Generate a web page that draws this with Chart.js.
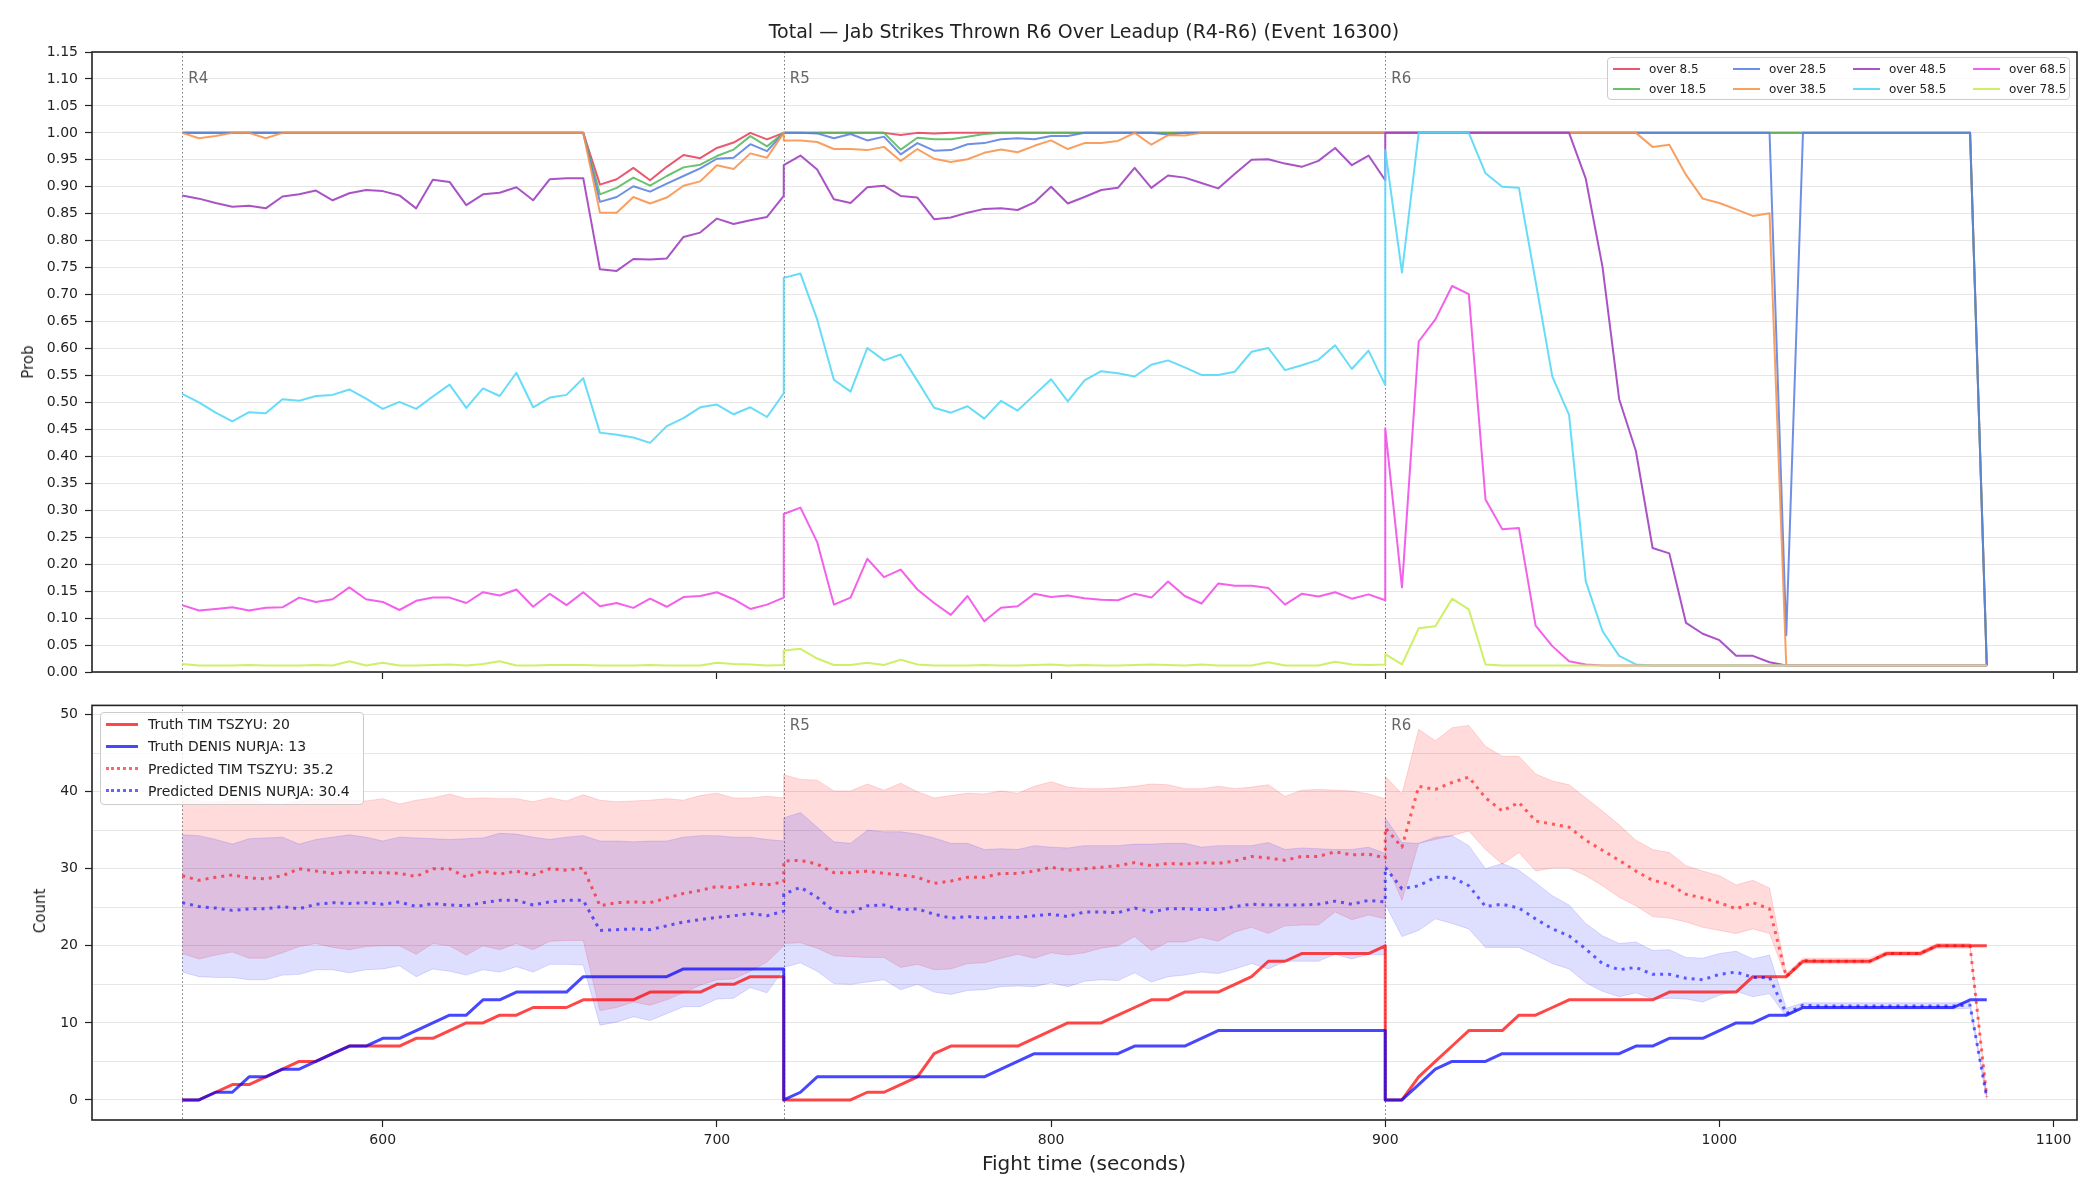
<!DOCTYPE html>
<html>
<head>
<meta charset="utf-8">
<script src="https://cdn.jsdelivr.net/npm/chart.js@4.4.1/dist/chart.umd.min.js"></script>
<style>
  body { margin: 0; width: 2100px; height: 1200px; background: #fff; position: relative; overflow: hidden;
         font-family: "DejaVu Sans", sans-serif; color: #222; }
  canvas { position: absolute; left: 0; }
  #probChart { top: 0; }
  #countChart { top: 690px; }
  .txt { position: absolute; white-space: nowrap; }
  .legend { position: absolute; border: 1px solid #cccccc; border-radius: 4px; background: rgba(255,255,255,0.8); box-sizing: border-box; }
  .sw { position: absolute; height: 0; }
</style>
</head>
<body>
<canvas id="probChart" width="2100" height="690" style="width:2100px;height:690px"></canvas>
<canvas id="countChart" width="2100" height="510" style="width:2100px;height:510px"></canvas>

<div class="txt" style="left:1084px; top:31px; transform:translate(-50%,-50%); font-size:19px;">Total — Jab Strikes Thrown R6 Over Leadup (R4-R6) (Event 16300)</div>
<div class="txt" style="left:28px; top:362px; transform:translate(-50%,-50%) rotate(-90deg); font-size:15px;">Prob</div>
<div class="txt" style="left:40px; top:911px; transform:translate(-50%,-50%) rotate(-90deg); font-size:15px;">Count</div>
<div class="txt" style="left:1084px; top:1163px; transform:translate(-50%,-50%); font-size:20px;">Fight time (seconds)</div>
<div id="topLegend" class="legend" style="left:1607px; top:57px; width:463px; height:43px;"></div>
<div id="bottomLegend" class="legend" style="left:100px; top:712px; width:264px; height:93px;"></div>

<script>
// time stamps (s) — rounds R4, R5, R6; round boundaries are repeated
const TIME = [
  540,545,550,555,560, 565,570,575,580,585, 590,595,600,605,610, 615,620,625,630,635, 640,645,650,655,660, 665,670,675,680,685, 690,695,700,705,710, 715,720,
  720,725,730,735,740, 745,750,755,760,765, 770,775,780,785,790, 795,800,805,810,815, 820,825,830,835,840, 845,850,855,860,865, 870,875,880,885,890, 895,900,
  900,905,910,915,920, 925,930,935,940,945, 950,955,960,965,970, 975,980,985,990,995, 1000,1005,1010,1015,1020, 1025,1030,1035,1040,1045, 1050,1055,1060,1065,1070, 1075,1080
];
const ROUND_STARTS = [540, 720, 900];
const ROUND_LABELS = ['R4', 'R5', 'R6'];
const X_TICKS = [600, 700, 800, 900, 1000, 1100];
const PROB_TICKS = [0, 0.05, 0.1, 0.15, 0.2, 0.25, 0.3, 0.35, 0.4, 0.45, 0.5, 0.55, 0.6, 0.65, 0.7, 0.75, 0.8, 0.85, 0.9, 0.95, 1, 1.05, 1.1, 1.15];
const COUNT_TICKS = [0, 5, 10, 15, 20, 25, 30, 35, 40, 45, 50];

// over/under probabilities (one row per round)
const over8_5 = [
  1,1,1,1,1, 1,1,1,1,1, 1,1,1,1,1, 1,1,1,1,1, 1,1,1,1,1, 0.904,0.914,0.935,0.912,0.937, 0.959,0.953,0.972,0.982,1, 0.988,1,
  1,1,1,1,1, 1,1,0.996,1,0.999, 1,1,1,1,1, 1,1,1,1,1, 1,1,1,1,1, 1,1,1,1,1, 1,1,1,1,1, 1,1,
  1,1,1,1,1, 1,1,1,1,1, 1,1,1,1,1, 1,1,1,1,1, 1,1,1,1,1, 1,1,1,1,1, 1,1,1,1,1, 1,0.012
];
const over18_5 = [
  1,1,1,1,1, 1,1,1,1,1, 1,1,1,1,1, 1,1,1,1,1, 1,1,1,1,1, 0.886,0.898,0.917,0.902,0.920, 0.936,0.941,0.957,0.969,0.994, 0.975,1,
  1,1,1,1,1, 1,1,0.969,0.991,0.988, 0.988,0.993,0.998,1,1, 1,1,1,1,1, 1,1,1,1,1, 1,1,1,1,1, 1,1,1,1,1, 1,1,
  1,1,1,1,1, 1,1,1,1,1, 1,1,1,1,1, 1,1,1,1,1, 1,1,1,1,1, 1,1,1,1,1, 1,1,1,1,1, 1,0.012
];
const over28_5 = [
  1,1,1,1,1, 1,1,1,1,1, 1,1,1,1,1, 1,1,1,1,1, 1,1,1,1,1, 0.872,0.881,0.901,0.891,0.906, 0.920,0.934,0.952,0.954,0.979, 0.966,1,
  1,1,0.999,0.990,0.998, 0.986,0.993,0.960,0.981,0.967, 0.968,0.979,0.981,0.988,0.990, 0.988,0.994,0.994,1,1, 1,1,1,0.997,1, 1,1,1,1,1, 1,1,1,1,1, 1,1,
  1,1,1,1,1, 1,1,1,1,1, 1,1,1,1,1, 1,1,1,1,1, 1,1,1,1,0.068, 1,1,1,1,1, 1,1,1,1,1, 1,0.012
];
const over38_5 = [
  1,0.990,0.994,1,1, 0.990,1,1,1,1, 1,1,1,1,1, 1,1,1,1,1, 1,1,1,1,1, 0.852,0.852,0.881,0.869,0.880, 0.902,0.910,0.940,0.933,0.962, 0.954,1,
  0.986,0.986,0.983,0.970,0.970, 0.968,0.974,0.948,0.970,0.952, 0.946,0.951,0.963,0.969,0.964, 0.976,0.986,0.970,0.981,0.981, 0.985,1,0.978,0.996,0.995, 1,1,1,1,1, 1,1,1,1,1, 1,1,
  1,1,1,1,1, 1,1,1,1,1, 1,1,1,1,1, 1,0.974,0.978,0.922,0.878, 0.870,0.858,0.846,0.851,0.012, 0.012,0.012,0.012,0.012,0.012, 0.012,0.012,0.012,0.012,0.012, 0.012,0.012
];
const over48_5 = [
  0.884,0.878,0.870,0.863,0.865, 0.860,0.882,0.886,0.893,0.875, 0.888,0.894,0.892,0.884,0.860, 0.913,0.909,0.866,0.886,0.889, 0.899,0.875,0.914,0.916,0.916, 0.747,0.744,0.766,0.765,0.767, 0.807,0.815,0.841,0.831,0.838, 0.844,0.883,
  0.940,0.958,0.932,0.877,0.870, 0.899,0.902,0.883,0.880,0.840, 0.843,0.852,0.859,0.860,0.857, 0.871,0.900,0.869,0.881,0.894, 0.898,0.935,0.898,0.921,0.917, 0.907,0.897,0.924,0.950,0.951, 0.943,0.937,0.948,0.972,0.940, 0.958,0.912,
  1,1,1,1,1, 1,1,1,1,1, 1,1,0.915,0.752,0.506, 0.410,0.230,0.220,0.091,0.071, 0.059,0.030,0.030,0.018,0.012, 0.012,0.012,0.012,0.012,0.012, 0.012,0.012,0.012,0.012,0.012, 0.012,0.012
];
const over58_5 = [
  0.516,0.500,0.481,0.465,0.482, 0.480,0.506,0.503,0.512,0.514, 0.524,0.507,0.488,0.501,0.488, 0.511,0.533,0.490,0.526,0.512, 0.555,0.491,0.509,0.514,0.545, 0.444,0.440,0.435,0.425,0.456, 0.471,0.491,0.496,0.478,0.491, 0.473,0.517,
  0.731,0.739,0.654,0.542,0.520, 0.601,0.578,0.589,0.540,0.490, 0.481,0.493,0.470,0.503,0.485, 0.514,0.543,0.502,0.541,0.558, 0.554,0.548,0.570,0.578,0.565, 0.551,0.551,0.557,0.594,0.601, 0.560,0.569,0.579,0.606,0.562, 0.596,0.532,
  0.968,0.741,1,1,1, 1,0.925,0.900,0.898,0.724, 0.548,0.477,0.168,0.076,0.030, 0.014,0.012,0.012,0.012,0.012, 0.012,0.012,0.012,0.012,0.012, 0.012,0.012,0.012,0.012,0.012, 0.012,0.012,0.012,0.012,0.012, 0.012,0.012
];
const over68_5 = [
  0.124,0.114,0.117,0.120,0.114, 0.119,0.120,0.138,0.130,0.135, 0.157,0.135,0.130,0.115,0.132, 0.138,0.138,0.128,0.148,0.142, 0.153,0.121,0.145,0.124,0.148, 0.122,0.128,0.119,0.136,0.121, 0.139,0.141,0.148,0.135,0.117, 0.125,0.138,
  0.293,0.305,0.241,0.125,0.138, 0.210,0.176,0.190,0.153,0.128, 0.106,0.141,0.094,0.119,0.122, 0.145,0.139,0.142,0.137,0.134, 0.133,0.145,0.138,0.168,0.141, 0.127,0.164,0.160,0.160,0.156, 0.125,0.145,0.140,0.148,0.136, 0.144,0.133,
  0.452,0.157,0.613,0.654,0.716, 0.701,0.320,0.265,0.267,0.086, 0.048,0.020,0.014,0.012,0.012, 0.012,0.012,0.012,0.012,0.012, 0.012,0.012,0.012,0.012,0.012, 0.012,0.012,0.012,0.012,0.012, 0.012,0.012,0.012,0.012,0.012, 0.012,0.012
];
const over78_5 = [
  0.015,0.012,0.012,0.012,0.013, 0.012,0.012,0.012,0.013,0.012, 0.020,0.012,0.017,0.012,0.012, 0.013,0.014,0.012,0.015,0.020, 0.012,0.012,0.013,0.013,0.013, 0.012,0.012,0.012,0.013,0.012, 0.012,0.012,0.017,0.015,0.014, 0.012,0.013,
  0.040,0.043,0.025,0.013,0.013, 0.017,0.013,0.023,0.014,0.012, 0.012,0.012,0.013,0.012,0.012, 0.013,0.014,0.012,0.013,0.012, 0.012,0.013,0.014,0.013,0.012, 0.014,0.012,0.012,0.012,0.018, 0.012,0.012,0.012,0.019,0.014, 0.013,0.014,
  0.033,0.014,0.081,0.085,0.136, 0.116,0.014,0.012,0.012,0.012, 0.012,0.012,0.012,0.012,0.012, 0.012,0.012,0.012,0.012,0.012, 0.012,0.012,0.012,0.012,0.012, 0.012,0.012,0.012,0.012,0.012, 0.012,0.012,0.012,0.012,0.012, 0.012,0.012
];
const PROB_NAMES = ['over 8.5', 'over 18.5', 'over 28.5', 'over 38.5', 'over 48.5', 'over 58.5', 'over 68.5', 'over 78.5'];
const PROB_VALUES = [over8_5, over18_5, over28_5, over38_5, over48_5, over58_5, over68_5, over78_5];
const PROB_COLORS = ['rgba(232,64,92,0.88)', 'rgba(85,185,90,0.88)', 'rgba(91,127,224,0.88)', 'rgba(247,147,76,0.88)',
                     'rgba(160,64,192,0.9)', 'rgba(85,216,247,0.9)', 'rgba(242,79,232,0.9)', 'rgba(200,238,85,0.9)'];

// counts
const truthTim = [
  0,0,1,2,2, 3,4,5,5,6, 7,7,7,7,8, 8,9,10,10,11, 11,12,12,12,13, 13,13,13,14,14, 14,14,15,15,16, 16,16,
  0,0,0,0,0, 1,1,2,3,6, 7,7,7,7,7, 8,9,10,10,10, 11,12,13,13,14, 14,14,15,16,18, 18,19,19,19,19, 19,20,
  0,0,3,5,7, 9,9,9,11,11, 12,13,13,13,13, 13,13,14,14,14, 14,14,16,16,16, 18,18,18,18,18, 19,19,19,20,20, 20,20
];
const truthDenis = [
  0,0,1,1,3, 3,4,4,5,6, 7,7,8,8,9, 10,11,11,13,13, 14,14,14,14,16, 16,16,16,16,16, 17,17,17,17,17, 17,17,
  0,1,3,3,3, 3,3,3,3,3, 3,3,3,4,5, 6,6,6,6,6, 6,7,7,7,7, 8,9,9,9,9, 9,9,9,9,9, 9,9,
  0,0,2,4,5, 5,5,6,6,6, 6,6,6,6,6, 7,7,8,8,8, 9,10,10,11,11, 12,12,12,12,12, 12,12,12,12,12, 13,13
];
const predTim = [
  29.1,28.5,28.9,29.2,28.8, 28.7,29.1,30.0,29.7,29.4, 29.6,29.5,29.5,29.4,29.0, 30.0,30.0,28.9,29.7,29.3, 29.7,29.2,30.0,29.8,30.1, 25.2,25.6,25.7,25.6,26.2, 26.8,27.2,27.7,27.5,28.1, 27.9,28.3,
  31.0,31.1,30.6,29.5,29.5, 29.7,29.4,29.2,28.9,28.1, 28.4,28.9,28.9,29.4,29.4, 29.7,30.2,29.8,30.0,30.2, 30.4,30.8,30.4,30.7,30.6, 30.8,30.7,31.0,31.6,31.4, 31.1,31.6,31.6,32.2,31.8, 31.9,31.4,
  35.3,32.8,40.7,40.3,41.2, 41.9,39.2,37.5,38.6,36.2, 35.8,35.4,33.7,32.4,31.1, 29.7,28.5,28.0,26.7,26.2, 25.6,24.8,25.6,24.8,16.0, 18.1,18.0,18.0,18.0,18.0, 19.0,19.0,19.0,20.0,20.0, 20.0,0.4
];
const predDenis = [
  25.6,25.1,24.9,24.6,24.8, 24.8,25.1,24.8,25.4,25.6, 25.5,25.6,25.4,25.7,25.1, 25.5,25.3,25.2,25.6,25.9, 25.9,25.3,25.7,25.9,25.9, 22.0,22.1,22.2,22.1,22.6, 23.1,23.4,23.7,23.9,24.2, 23.9,24.5,
  26.7,27.6,26.3,24.5,24.3, 25.2,25.3,24.7,24.8,24.1, 23.6,23.8,23.6,23.7,23.7, 23.9,24.1,23.8,24.4,24.4, 24.3,24.9,24.4,24.8,24.8, 24.7,24.7,25.1,25.4,25.3, 25.3,25.3,25.4,25.8,25.4, 25.9,25.7,
  30.2,27.4,27.8,28.9,28.9, 27.8,25.1,25.4,24.9,23.5, 22.2,21.3,19.6,17.7,16.9, 17.2,16.3,16.3,15.8,15.6, 16.3,16.6,15.9,15.9,11.2, 12.3,12.2,12.2,12.2,12.2, 12.2,12.2,12.2,12.2,12.2, 12.3,0.3
];
const timHi = [
  39.2,38.8,38.6,38.9,39.0, 38.5,38.4,38.8,39.1,39.0, 38.9,38.8,39.1,38.4,38.9, 39.2,39.7,39.1,39.2,39.1, 39.1,38.7,39.2,38.8,39.6, 38.9,38.7,38.8,38.9,39.1, 38.9,39.5,39.8,39.2,39.2, 39.4,39.2,
  42.2,41.6,41.5,40.1,40.1, 41.0,40.2,41.1,40.0,39.2, 39.5,39.8,39.7,40.1,39.8, 40.7,41.3,40.6,40.4,40.4, 40.5,40.7,41.0,40.9,40.4, 40.4,40.7,40.4,40.6,40.9, 39.4,40.2,40.3,40.2,40.1, 39.7,39.1,
  42.0,39.7,48.1,46.6,48.3, 48.6,45.9,44.6,44.6,42.3, 41.4,40.9,39.2,37.5,35.7, 33.7,32.5,32.1,30.4,29.7, 29.1,27.9,28.5,27.5,16.4, 18.4,18.4,18.4,18.4,18.4, 19.3,19.3,19.3,20.3,20.3, 20.3,0.6
];
const timLo = [
  19.0,18.3,18.8,19.2,18.4, 18.4,19.1,19.9,20.3,19.8, 19.5,19.9,20.0,20.0,18.9, 20.3,20.0,18.8,20.0,19.5, 20.3,19.5,20.6,20.7,20.7, 11.6,12.0,12.7,12.3,13.0, 13.9,14.9,15.6,15.7,16.7, 17.9,20.0,
  20.3,20.4,19.7,18.7,18.6, 18.5,18.5,17.2,17.6,16.9, 17.0,17.7,17.8,18.4,18.9, 18.4,19.1,18.8,19.1,19.7, 20.0,21.2,19.4,20.5,20.5, 21.1,20.6,21.8,22.4,21.6, 22.6,22.7,22.7,24.4,23.4, 24.0,23.5,
  31.0,25.9,33.3,33.8,34.3, 34.9,32.5,30.6,32.1,29.7, 30.1,30.1,29.1,27.8,26.3, 25.2,23.8,23.6,23.1,22.4, 22.0,21.6,22.2,21.6,15.8, 17.7,17.7,17.7,17.7,17.7, 18.7,18.7,18.7,19.7,19.7, 19.7,0.2
];
const denHi = [
  34.4,34.3,33.8,33.2,33.9, 34.0,34.1,33.2,33.8,34.1, 34.4,34.1,33.6,34.1,34.0, 33.9,33.8,33.9,34.0,34.6, 34.5,34.1,33.8,34.1,34.3, 33.6,33.6,33.5,33.6,33.6, 34.1,34.3,34.3,34.1,34.1, 33.8,33.6,
  36.6,37.3,35.4,33.5,33.3, 35.0,34.8,34.8,34.5,34.0, 33.3,33.3,32.5,32.6,32.5, 33.0,32.8,32.7,33.0,33.0, 33.0,33.2,33.2,33.3,33.3, 32.8,33.0,33.0,33.0,33.4, 32.5,32.7,32.6,32.5,32.5, 32.8,32.0,
  36.6,33.4,33.3,34.1,34.3, 33.0,30.0,30.7,29.8,28.2, 26.5,25.3,22.9,21.3,20.3, 20.5,19.4,19.5,18.5,18.4, 19.0,19.3,18.3,18.8,11.9, 12.6,12.6,12.6,12.6,12.6, 12.6,12.6,12.6,12.6,12.6, 12.7,0.5
];
const denLo = [
  16.6,16.0,15.9,15.9,15.6, 15.6,16.2,16.3,16.9,16.9, 16.5,16.9,17.0,17.4,16.0, 17.0,16.7,16.2,16.9,16.6, 17.3,16.6,17.6,17.6,17.5, 9.7,10.1,10.8,10.3,11.2, 12.1,12.1,13.1,13.2,14.6, 13.9,17.0,
  17.2,17.8,16.7,15.1,15.0, 15.3,15.6,14.3,15.0,14.0, 13.7,14.2,14.3,14.7,14.8, 14.7,15.2,14.7,15.4,15.6, 15.5,16.5,15.3,16.0,16.2, 16.6,16.4,17.0,17.7,17.0, 18.0,18.0,18.0,18.9,18.3, 18.9,18.8,
  25.4,21.2,22.0,23.5,22.9, 22.2,19.8,19.8,19.8,18.8, 17.7,17.0,15.2,14.1,13.4, 13.9,13.1,13.2,13.1,12.7, 13.6,14.1,13.4,13.8,10.8, 11.8,11.8,11.8,11.8,11.8, 11.8,11.8,11.8,11.8,11.8, 11.9,0.1
];
const COUNT_LEGEND = ['Truth TIM TSZYU: 20', 'Truth DENIS NURJA: 13', 'Predicted TIM TSZYU: 35.2', 'Predicted DENIS NURJA: 30.4'];

const RED = 'rgba(255,0,0,0.72)';
const BLUE = 'rgba(0,0,255,0.72)';
const FONT = 'DejaVu Sans';

function pts(arr) {
  return TIME.map((t, i) => ({ x: t, y: arr[i] }));
}

// dotted round separators + labels
const roundMarks = {
  id: 'roundMarks',
  beforeDatasetsDraw(chart, args, opts) {
    const { ctx, chartArea: a, scales: { x, y } } = chart;
    ctx.save();
    ctx.strokeStyle = '#777';
    ctx.lineWidth = 1;
    ctx.setLineDash([1.5, 2.5]);
    ROUND_STARTS.forEach(t => {
      const px = Math.round(x.getPixelForValue(t)) + 0.5;
      ctx.beginPath();
      ctx.moveTo(px, a.top);
      ctx.lineTo(px, a.bottom);
      ctx.stroke();
    });
    ctx.setLineDash([]);
    ctx.fillStyle = '#666';
    ctx.font = '15px "' + FONT + '"';
    ctx.textBaseline = 'middle';
    ROUND_STARTS.forEach((t, i) => {
      if (opts.skip && opts.skip.includes(i)) return;
      ctx.fillText(ROUND_LABELS[i], x.getPixelForValue(t) + 6, y.getPixelForValue(opts.labelY));
    });
    ctx.restore();
  }
};

// full box around the axes
const frame = {
  id: 'frame',
  afterDraw(chart) {
    const { ctx, chartArea: a } = chart;
    ctx.save();
    ctx.strokeStyle = '#222';
    ctx.lineWidth = 1.6;
    ctx.strokeRect(a.left, a.top, a.right - a.left, a.bottom - a.top);
    ctx.restore();
  }
};

function xAxis(showLabels, height) {
  return {
    type: 'linear', min: 513, max: 1107,
    afterBuildTicks: s => { s.ticks = X_TICKS.map(v => ({ value: v })); },
    ticks: { display: showLabels, autoSkip: false, maxRotation: 0, padding: 5, color: '#222',
             font: { family: FONT, size: 14 }, callback: v => String(v) },
    grid: { drawOnChartArea: false, drawTicks: true, tickLength: 7, tickColor: '#222', tickWidth: 1.2 },
    border: { display: false },
    afterFit: s => { s.height = height; }
  };
}

function baseOptions(padTop) {
  return {
    responsive: false,
    animation: false,
    events: [],
    layout: { padding: { top: padTop, right: 23, left: 0, bottom: 0 } },
    elements: { line: { tension: 0, borderJoinStyle: 'round' }, point: { radius: 0 } }
  };
}

// ---- top chart: probabilities ----
new Chart(document.getElementById('probChart'), {
  type: 'line',
  data: {
    datasets: PROB_VALUES.map((vals, i) => ({
      label: PROB_NAMES[i],
      data: pts(vals),
      borderColor: PROB_COLORS[i],
      borderWidth: 2,
      fill: false,
      order: PROB_VALUES.length - i
    }))
  },
  options: Object.assign(baseOptions(52), {
    scales: {
      x: xAxis(false, 18),
      y: {
        min: 0, max: 1.15,
        afterBuildTicks: s => { s.ticks = PROB_TICKS.map(v => ({ value: v })); },
        ticks: { autoSkip: false, padding: 7, color: '#222',
                 font: { family: FONT, size: 14 }, callback: v => v.toFixed(2) },
        grid: { color: '#e6e6e6', lineWidth: 1, tickLength: 7, tickColor: '#222', tickWidth: 1.2 },
        border: { display: false },
        afterFit: s => { s.width = 92; }
      }
    },
    plugins: { legend: { display: false }, tooltip: { enabled: false }, roundMarks: { labelY: 1.1 } }
  }),
  plugins: [roundMarks, frame]
});

// ---- bottom chart: counts ----
new Chart(document.getElementById('countChart'), {
  type: 'line',
  data: {
    datasets: [
      { data: pts(timLo), borderColor: 'rgba(255,0,0,0.14)', borderWidth: 1, fill: false, order: 5 },
      { data: pts(timHi), borderColor: 'rgba(255,0,0,0.14)', borderWidth: 1, fill: '-1',
        backgroundColor: 'rgba(255,0,0,0.14)', order: 5 },
      { data: pts(denLo), borderColor: 'rgba(0,0,255,0.13)', borderWidth: 1, fill: false, order: 4 },
      { data: pts(denHi), borderColor: 'rgba(0,0,255,0.13)', borderWidth: 1, fill: '-1',
        backgroundColor: 'rgba(0,0,255,0.13)', order: 4 },
      { label: COUNT_LEGEND[0], data: pts(truthTim), borderColor: RED, borderWidth: 3, fill: false, order: 3 },
      { label: COUNT_LEGEND[1], data: pts(truthDenis), borderColor: BLUE, borderWidth: 3, fill: false, order: 2 },
      { label: COUNT_LEGEND[2], data: pts(predTim), borderColor: 'rgba(255,0,0,0.6)', borderWidth: 3,
        borderDash: [3, 5], borderCapStyle: 'butt', fill: false, order: 1 },
      { label: COUNT_LEGEND[3], data: pts(predDenis), borderColor: 'rgba(0,0,255,0.6)', borderWidth: 3,
        borderDash: [3, 5], borderCapStyle: 'butt', fill: false, order: 0 }
    ]
  },
  options: Object.assign(baseOptions(13), {
    scales: {
      x: xAxis(true, 80),
      y: {
        min: -2.6, max: 51.2,
        afterBuildTicks: s => { s.ticks = COUNT_TICKS.map(v => ({ value: v })); },
        ticks: { autoSkip: false, padding: 7, color: '#222',
                 font: { family: FONT, size: 14 }, callback: v => (v % 10 === 0 ? String(v) : '') },
        grid: { color: '#e6e6e6', lineWidth: 1, tickLength: 7, tickWidth: 1.2,
                tickColor: c => (c.tick && c.tick.value % 10 === 0 ? '#222' : 'rgba(0,0,0,0)') },
        border: { display: false },
        afterFit: s => { s.width = 92; }
      }
    },
    plugins: { legend: { display: false }, tooltip: { enabled: false }, roundMarks: { labelY: 48.5, skip: [0] } }
  }),
  plugins: [roundMarks, frame]
});

// ---- legends (HTML text) ----
const topLegend = document.getElementById('topLegend');
PROB_NAMES.forEach((name, k) => {
  const col = Math.floor(k / 2), row = k % 2;
  const left = 5 + col * 120, cy = 11 + row * 20;
  const sw = document.createElement('div');
  sw.className = 'sw';
  sw.style.cssText = `left:${left}px; top:${cy - 1}px; width:27px; border-top:2.5px solid ${PROB_COLORS[k]};`;
  topLegend.appendChild(sw);
  const t = document.createElement('div');
  t.className = 'txt';
  t.style.cssText = `left:${left + 36}px; top:${cy}px; transform:translateY(-50%); font-size:12px;`;
  t.textContent = name;
  topLegend.appendChild(t);
});

const bottomLegend = document.getElementById('bottomLegend');
const swStyles = [`3px solid ${RED}`, `3px solid ${BLUE}`, `3px dotted rgba(255,0,0,0.6)`, `3px dotted rgba(0,0,255,0.6)`];
COUNT_LEGEND.forEach((label, k) => {
  const cy = 11 + k * 22.3;
  const sw = document.createElement('div');
  sw.className = 'sw';
  sw.style.cssText = `left:5px; top:${cy - 1.5}px; width:32px; border-top:${swStyles[k]};`;
  bottomLegend.appendChild(sw);
  const t = document.createElement('div');
  t.className = 'txt';
  t.style.cssText = `left:47px; top:${cy}px; transform:translateY(-50%); font-size:14px;`;
  t.textContent = label;
  bottomLegend.appendChild(t);
});
</script>
</body>
</html>
